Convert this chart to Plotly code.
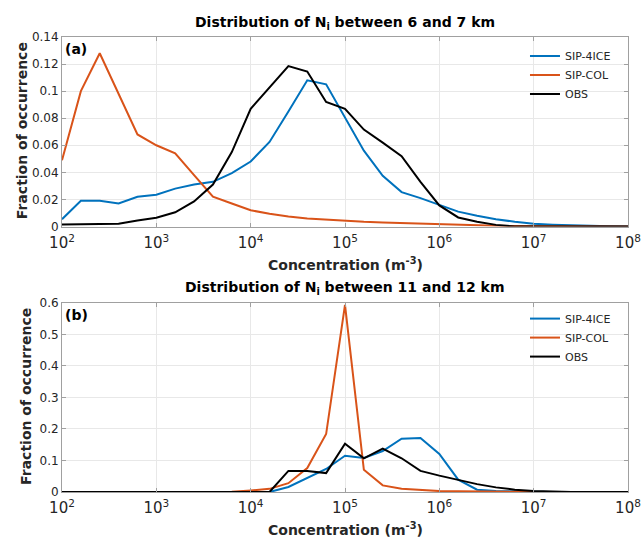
import plotly.graph_objects as go

# log10 concentration bin centres (m^-3)
log_conc = [2.0, 2.2, 2.4, 2.6, 2.8, 3.0, 3.2, 3.4, 3.6, 3.8, 4.0, 4.2, 4.4, 4.6, 4.8,
            5.0, 5.2, 5.4, 5.6, 5.8, 6.0, 6.2, 6.4, 6.6, 6.8, 7.0, 7.2, 7.4, 7.6, 7.8, 8.0]

# Panel (a): 6-7 km
a_sip4ice = [0.0054, 0.019, 0.019, 0.017, 0.022, 0.0235, 0.028, 0.031, 0.033, 0.0395, 0.048,
             0.0625, 0.085, 0.108, 0.105, 0.081, 0.056, 0.0375, 0.0254, 0.021, 0.016, 0.011,
             0.008, 0.0054, 0.0035, 0.002, 0.0013, 0.0008, 0.0004, 0.0001, 0.0]
a_sipcol = [0.049, 0.100, 0.128, 0.098, 0.068, 0.060, 0.054, 0.038, 0.022, 0.017, 0.012,
            0.0094, 0.0074, 0.006, 0.005, 0.0042, 0.0035, 0.003, 0.0025, 0.002, 0.0015, 0.001,
            0.0007, 0.0005, 0.0003, 0.0002, 0.0001, 0.0, 0.0, 0.0, 0.0]
a_obs = [0.0015, 0.0017, 0.002, 0.002, 0.0045, 0.0065, 0.0105, 0.0185, 0.031, 0.055, 0.087,
         0.1025, 0.1185, 0.1145, 0.092, 0.087, 0.0716, 0.062, 0.052, 0.033, 0.0156, 0.0067,
         0.0035, 0.0012, 0.0, 0.0, 0.0, 0.0, 0.0, 0.0, 0.0]

# Panel (b): 11-12 km
b_sip4ice = [0, 0, 0, 0, 0, 0, 0, 0, 0, 0, 0, 0, 0.016, 0.044, 0.073, 0.115, 0.108, 0.13,
             0.169, 0.1715, 0.121, 0.039, 0.0074, 0.003, 0.001, 0.0005, 0, 0, 0, 0, 0]
b_sipcol = [0, 0, 0, 0, 0, 0, 0, 0, 0, 0.001, 0.005, 0.01, 0.028, 0.076, 0.184, 0.594, 0.0705,
            0.021, 0.0105, 0.006, 0.003, 0.002, 0.001, 0.0007, 0.0004, 0.0002, 0, 0, 0, 0, 0]
b_obs = [0, 0, 0, 0, 0, 0, 0, 0, 0, 0, 0, 0, 0.067, 0.067, 0.06, 0.153, 0.107, 0.138, 0.107,
         0.067, 0.052, 0.039, 0.025, 0.0147, 0.0074, 0.003, 0.001, 0, 0, 0, 0]

series_names = ["SIP-4ICE", "SIP-COL", "OBS"]
colors = ["#0072BD", "#D95319", "#000000"]

a_ticks = [0, 0.02, 0.04, 0.06, 0.08, 0.1, 0.12, 0.14]
a_ticktext = ["0", "0.02", "0.04", "0.06", "0.08", "0.1", "0.12", "0.14"]
b_ticks = [0, 0.1, 0.2, 0.3, 0.4, 0.5, 0.6]
b_ticktext = ["0", "0.1", "0.2", "0.3", "0.4", "0.5", "0.6"]

conc = [10 ** v for v in log_conc]

fig = go.Figure()
for i, (vals, name) in enumerate(zip([a_sip4ice, a_sipcol, a_obs], series_names)):
    fig.add_trace(go.Scatter(x=conc, y=vals, mode="lines", name=name,
                             line=dict(color=colors[i], width=2),
                             xaxis="x", yaxis="y", legend="legend"))
for i, (vals, name) in enumerate(zip([b_sip4ice, b_sipcol, b_obs], series_names)):
    fig.add_trace(go.Scatter(x=conc, y=vals, mode="lines", name=name,
                             line=dict(color=colors[i], width=2),
                             xaxis="x2", yaxis="y2", legend="legend2"))

tickfont = dict(family="DejaVu Sans", size=12, color="#262626")
common_x = dict(type="log", range=[2, 8], dtick=1, exponentformat="power",
                showgrid=True, gridcolor="#e8e8e8", gridwidth=1,
                showline=True, linecolor="#a0a0a0", linewidth=1, mirror="ticks",
                ticks="inside", ticklen=4, tickcolor="#a0a0a0", ticklabelstandoff=3,
                tickfont=tickfont, zeroline=False, automargin=False)
common_y = dict(showgrid=True, gridcolor="#e8e8e8", gridwidth=1,
                showline=True, linecolor="#a0a0a0", linewidth=1, mirror="ticks",
                ticks="inside", ticklen=4, tickcolor="#a0a0a0",
                tickfont=tickfont, zeroline=False, automargin=False)

legend_font = dict(family="DejaVu Sans", size=11, color="#262626")
fig.update_layout(
    width=641, height=538,
    margin=dict(l=62, r=13, t=37, b=46),
    paper_bgcolor="white", plot_bgcolor="white",
    showlegend=True,
    xaxis=dict(**common_x, domain=[0, 1], anchor="y"),
    yaxis=dict(**common_y, domain=[0.5835, 1], anchor="x", range=[0, 0.14],
               tickvals=a_ticks, ticktext=a_ticktext),
    xaxis2=dict(**common_x, domain=[0, 1], anchor="y2"),
    yaxis2=dict(**common_y, domain=[0, 0.4154], anchor="x2", range=[0, 0.6],
                tickvals=b_ticks, ticktext=b_ticktext),
    legend=dict(x=0.818, y=0.99, xanchor="left", yanchor="top", xref="paper", yref="paper",
                bgcolor="rgba(255,255,255,0)", borderwidth=0, font=legend_font,
                tracegroupgap=0, itemwidth=30),
    legend2=dict(x=0.818, y=0.413, xanchor="left", yanchor="top", xref="paper", yref="paper",
                 bgcolor="rgba(255,255,255,0)", borderwidth=0, font=legend_font,
                 tracegroupgap=0, itemwidth=30),
)

bold = dict(family="DejaVu Sans", size=14, color="#000000")
axbold = dict(family="DejaVu Sans", size=14, color="#262626")
ybold = dict(family="DejaVu Sans", size=14, color="#262626")
top_dom = 0.5835
bot_dom = 0.4154
annots = [
    dict(text="<b>Distribution of N<sub>i</sub> between 6 and 7 km</b>", x=0.5, y=1.0,
         xref="paper", yref="paper", xanchor="center", yanchor="middle", yshift=14,
         showarrow=False, font=bold),
    dict(text="<b>Distribution of N<sub>i</sub> between 11 and 12 km</b>", x=0.5, y=bot_dom,
         xref="paper", yref="paper", xanchor="center", yanchor="middle", yshift=15,
         showarrow=False, font=bold),
    dict(text="<b>Concentration (m<sup>-3</sup>)</b>", x=0.5, y=top_dom, xref="paper",
         yref="paper", xanchor="center", yanchor="middle", yshift=-37, showarrow=False,
         font=axbold),
    dict(text="<b>Concentration (m<sup>-3</sup>)</b>", x=0.5, y=0.0, xref="paper",
         yref="paper", xanchor="center", yanchor="middle", yshift=-37, showarrow=False,
         font=axbold),
    dict(text="<b>Fraction of occurrence</b>", x=0, y=0.793, xref="paper", yref="paper",
         xanchor="center", yanchor="middle", xshift=-40, textangle=-90, showarrow=False,
         font=ybold),
    dict(text="<b>Fraction of occurrence</b>", x=0, y=0.209, xref="paper", yref="paper",
         xanchor="center", yanchor="middle", xshift=-36, textangle=-90, showarrow=False,
         font=ybold),
    dict(text="<b>(a)</b>", x=0, y=1.0, xref="paper", yref="paper", xanchor="left",
         yanchor="top", xshift=1, yshift=-2, showarrow=False,
         font=dict(family="DejaVu Sans", size=14, color="#000")),
    dict(text="<b>(b)</b>", x=0, y=bot_dom, xref="paper", yref="paper", xanchor="left",
         yanchor="top", xshift=1, yshift=-2, showarrow=False,
         font=dict(family="DejaVu Sans", size=14, color="#000")),
]
fig.update_layout(annotations=annots)

fig.write_html("out.html", config={"displayModeBar": False},
               post_script="document.body.style.margin='0px';")
